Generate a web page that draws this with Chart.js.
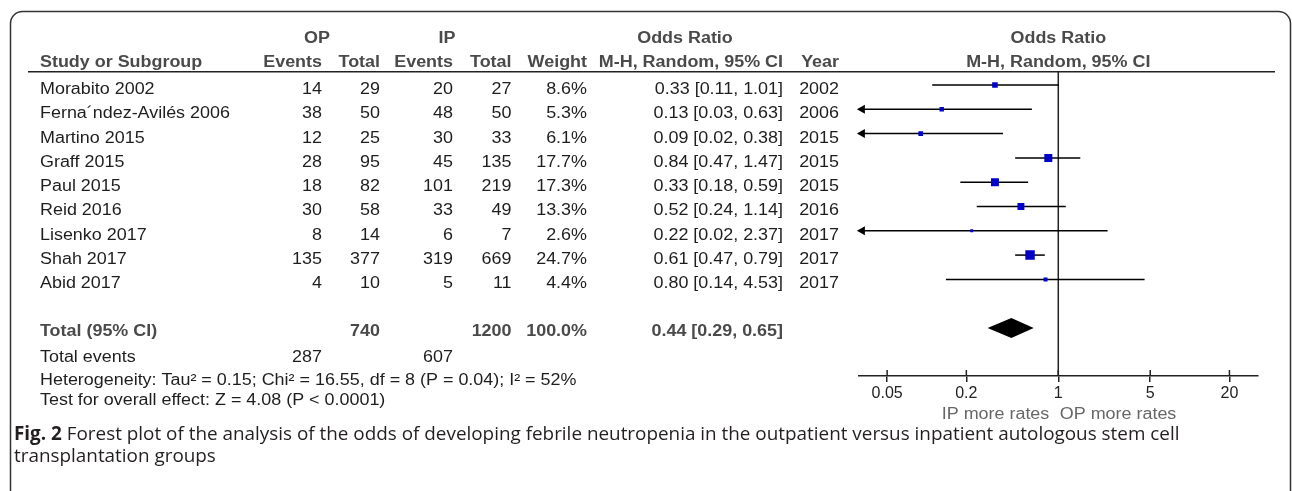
<!DOCTYPE html>
<html>
<head>
<meta charset="utf-8">
<script src="https://cdn.jsdelivr.net/npm/chart.js@4/dist/chart.umd.min.js"></script>
<style>
  html, body { margin: 0; padding: 0; background: #fff; }
  canvas { display: block; }
</style>
</head>
<body>
<canvas id="forest" width="1292" height="491"></canvas>
<script>
// study data
const studies = ['Morabito 2002', 'Ferna\u00b4ndez-Avilés 2006', 'Martino 2015', 'Graff 2015', 'Paul 2015',
  'Reid 2016', 'Lisenko 2017', 'Shah 2017', 'Abid 2017'];
const opEvents = [14, 38, 12, 28, 18, 30, 8, 135, 4];
const opTotal = [29, 50, 25, 95, 82, 58, 14, 377, 10];
const ipEvents = [20, 48, 30, 45, 101, 33, 6, 319, 5];
const ipTotal = [27, 50, 33, 135, 219, 49, 7, 669, 11];
const weights = [8.6, 5.3, 6.1, 17.7, 17.3, 13.3, 2.6, 24.7, 4.4];
const oddsRatio = [0.33, 0.13, 0.09, 0.84, 0.33, 0.52, 0.22, 0.61, 0.80];
const ciLower = [0.11, 0.03, 0.02, 0.47, 0.18, 0.24, 0.02, 0.47, 0.14];
const ciUpper = [1.01, 0.63, 0.38, 1.47, 0.59, 1.14, 2.37, 0.79, 4.53];
const years = [2002, 2006, 2015, 2015, 2015, 2016, 2017, 2017, 2017];

// pooled result
const pooledOR = [0.44, 0.29, 0.65]; // estimate, lower, upper
const pooledTotals = [740, 1200];    // OP total, IP total
const pooledEvents = [287, 607];     // OP events, IP events

const xTicks = [0.05, 0.2, 1, 5, 20];

const FONT = '"Liberation Sans", Arial, sans-serif';
const SX = 1.12; // the figure's text is a bit stretched sideways
const GREY = '#4a4a4a';
const INK = '#1e1e1e';
const totalRow = studies.length + 1;

function txt(ctx, s, x, y, align, font, color) {
  ctx.save();
  ctx.font = font;
  ctx.fillStyle = color;
  ctx.textAlign = 'left';
  ctx.textBaseline = 'alphabetic';
  const w = ctx.measureText(s).width * SX;
  const x0 = align === 'right' ? x - w : align === 'center' ? x - w / 2 : x;
  ctx.translate(x0, y);
  ctx.scale(SX, 1);
  ctx.fillText(s, 0, 0);
  ctx.restore();
}

const forestPlugin = {
  id: 'forest',
  beforeDatasetsDraw(chart) {
    const { ctx, chartArea: a, scales: { x, y } } = chart;
    ctx.save();
    ctx.strokeStyle = '#222';
    ctx.lineWidth = 1.5;
    // line of no effect
    ctx.beginPath();
    ctx.moveTo(x.getPixelForValue(1), a.top);
    ctx.lineTo(x.getPixelForValue(1), a.bottom);
    ctx.stroke();
    // confidence intervals
    ctx.fillStyle = '#000';
    ctx.strokeStyle = '#000';
    studies.forEach((s, i) => {
      const py = y.getPixelForValue(i);
      const clipped = ciLower[i] < x.min;
      const x1 = clipped ? a.left : x.getPixelForValue(ciLower[i]);
      const x2 = x.getPixelForValue(Math.min(ciUpper[i], x.max));
      ctx.beginPath();
      ctx.moveTo(x1, py);
      ctx.lineTo(x2, py);
      ctx.stroke();
      if (clipped) {
        ctx.beginPath();
        ctx.moveTo(a.left - 2, py);
        ctx.lineTo(a.left + 6, py - 4.5);
        ctx.lineTo(a.left + 6, py + 4.5);
        ctx.closePath();
        ctx.fill();
      }
    });
    ctx.restore();
  },
  afterDraw(chart) {
    const { ctx, chartArea: a, scales: { x, y } } = chart;
    ctx.save();
    // frame
    ctx.strokeStyle = '#333';
    ctx.lineWidth = 1.5;
    const r = 12, L = 10.5, T = 11.5, R = 1290.5;
    ctx.beginPath();
    ctx.moveTo(L, 500);
    ctx.lineTo(L, T + r);
    ctx.arcTo(L, T, L + r, T, r);
    ctx.lineTo(R - r, T);
    ctx.arcTo(R, T, R, T + r, r);
    ctx.lineTo(R, 500);
    ctx.stroke();
    // header rule
    ctx.strokeStyle = '#222';
    ctx.beginPath();
    ctx.moveTo(28, a.top);
    ctx.lineTo(1275, a.top);
    ctx.stroke();
    // upper halves of the axis ticks
    ctx.beginPath();
    xTicks.forEach(v => {
      const px = x.getPixelForValue(v);
      ctx.moveTo(px, a.bottom - 6);
      ctx.lineTo(px, a.bottom);
    });
    ctx.stroke();
    // pooled diamond
    const py = y.getPixelForValue(totalRow);
    ctx.fillStyle = '#000';
    ctx.beginPath();
    ctx.moveTo(x.getPixelForValue(pooledOR[1]), py);
    ctx.lineTo(x.getPixelForValue(pooledOR[0]), py - 10);
    ctx.lineTo(x.getPixelForValue(pooledOR[2]), py);
    ctx.lineTo(x.getPixelForValue(pooledOR[0]), py + 10);
    ctx.closePath();
    ctx.fill();
    ctx.restore();

    const B = 'bold 16px ' + FONT, N = '16px ' + FONT;
    const xMid = x.getPixelForValue(1);
    // headers
    txt(ctx, 'OP', 317, 42.5, 'center', B, GREY);
    txt(ctx, 'IP', 447, 42.5, 'center', B, GREY);
    txt(ctx, 'Odds Ratio', 685, 42.5, 'center', B, GREY);
    txt(ctx, 'Odds Ratio', xMid, 42.5, 'center', B, GREY);
    txt(ctx, 'Study or Subgroup', 40, 67, 'left', B, GREY);
    txt(ctx, 'Events', 322, 67, 'right', B, GREY);
    txt(ctx, 'Total', 380, 67, 'right', B, GREY);
    txt(ctx, 'Events', 453, 67, 'right', B, GREY);
    txt(ctx, 'Total', 511.5, 67, 'right', B, GREY);
    txt(ctx, 'Weight', 587, 67, 'right', B, GREY);
    txt(ctx, 'M-H, Random, 95% CI', 783, 67, 'right', B, GREY);
    txt(ctx, 'Year', 839, 67, 'right', B, GREY);
    txt(ctx, 'M-H, Random, 95% CI', xMid, 67, 'center', B, GREY);

    // study rows
    studies.forEach((s, i) => {
      const by = y.getPixelForValue(i) + 9;
      txt(ctx, s, 40, by, 'left', N, INK);
      txt(ctx, String(opEvents[i]), 322, by, 'right', N, INK);
      txt(ctx, String(opTotal[i]), 380, by, 'right', N, INK);
      txt(ctx, String(ipEvents[i]), 453, by, 'right', N, INK);
      txt(ctx, String(ipTotal[i]), 511.5, by, 'right', N, INK);
      txt(ctx, weights[i].toFixed(1) + '%', 587, by, 'right', N, INK);
      txt(ctx, `${oddsRatio[i].toFixed(2)} [${ciLower[i].toFixed(2)}, ${ciUpper[i].toFixed(2)}]`, 783, by, 'right', N, INK);
      txt(ctx, String(years[i]), 839, by, 'right', N, INK);
    });

    // total row
    const ty = y.getPixelForValue(totalRow) + 8;
    const wSum = weights.reduce((p, c) => p + c, 0);
    txt(ctx, 'Total (95% CI)', 40, ty, 'left', B, GREY);
    txt(ctx, String(pooledTotals[0]), 380, ty, 'right', B, GREY);
    txt(ctx, String(pooledTotals[1]), 511.5, ty, 'right', B, GREY);
    txt(ctx, Math.round(wSum).toFixed(1) + '%', 587, ty, 'right', B, GREY);
    txt(ctx, `${pooledOR[0].toFixed(2)} [${pooledOR[1].toFixed(2)}, ${pooledOR[2].toFixed(2)}]`, 783, ty, 'right', B, GREY);

    // footer
    txt(ctx, 'Total events', 40, 362, 'left', N, INK);
    txt(ctx, String(pooledEvents[0]), 322, 362, 'right', N, INK);
    txt(ctx, String(pooledEvents[1]), 453, 362, 'right', N, INK);
    txt(ctx, 'Heterogeneity: Tau\u00b2 = 0.15; Chi\u00b2 = 16.55, df = 8 (P = 0.04); I\u00b2 = 52%', 40, 385, 'left', N, INK);
    txt(ctx, 'Test for overall effect: Z = 4.08 (P < 0.0001)', 40, 405, 'left', N, INK);

    // favours labels
    txt(ctx, 'IP more rates', xMid - 9, 419, 'right', N, '#666');
    txt(ctx, 'OP more rates', xMid + 1.5, 419, 'left', N, '#666');

    // caption
    ctx.save();
    const lead = 'Fig. 2';
    const rest = ' Forest plot of the analysis of the odds of developing febrile neutropenia in the outpatient versus inpatient autologous stem cell';
    ctx.font = 'bold 16px "Open Sans"';
    const wb = ctx.measureText(lead).width;
    ctx.font = '16px "Open Sans"';
    const wr = ctx.measureText(rest).width;
    const size = 16 * 1166 / (wb + wr);
    ctx.fillStyle = '#231f20';
    ctx.textBaseline = 'alphabetic';
    ctx.textAlign = 'left';
    ctx.font = `bold ${size}px "Open Sans"`;
    ctx.fillText(lead, 14, 440);
    const wl = ctx.measureText(lead).width;
    ctx.font = `${size}px "Open Sans"`;
    ctx.fillText(rest, 14 + wl, 440);
    ctx.fillText('transplantation groups', 14, 462);
    ctx.restore();
  }
};

const canvas = document.getElementById('forest');
new Chart(canvas, {
  type: 'scatter',
  data: {
    datasets: [{
      data: oddsRatio.map((v, i) => ({ x: v, y: i })),
      pointStyle: 'rect',
      pointRadius: weights.map(w => 1.9 * Math.sqrt(w) / Math.SQRT2),
      pointHoverRadius: weights.map(w => 1.9 * Math.sqrt(w) / Math.SQRT2),
      pointBackgroundColor: '#0000c8',
      pointBorderWidth: 0
    }]
  },
  options: {
    responsive: false,
    animation: false,
    devicePixelRatio: 1,
    layout: { padding: { left: 858.9, right: 34.3, top: 71.7, bottom: 85 } },
    plugins: { legend: { display: false }, tooltip: { enabled: false } },
    scales: {
      x: {
        type: 'logarithmic',
        min: 0.0305,
        max: 32.8,
        afterFit: s => { s.height = 30; },
        afterBuildTicks: s => { s.ticks = xTicks.map(v => ({ value: v })); },
        ticks: {
          autoSkip: false,
          maxRotation: 0,
          padding: 2,
          color: '#222',
          font: { family: FONT, size: 16 },
          callback: v => String(v)
        },
        grid: { drawOnChartArea: false, tickLength: 6, color: '#222', lineWidth: 1.5 },
        border: { display: true, color: '#222', width: 1.5 }
      },
      y: {
        type: 'linear',
        display: false,
        reverse: true,
        min: -0.547,
        max: 11.976
      }
    }
  },
  plugins: [forestPlugin]
});
</script>
</body>
</html>
